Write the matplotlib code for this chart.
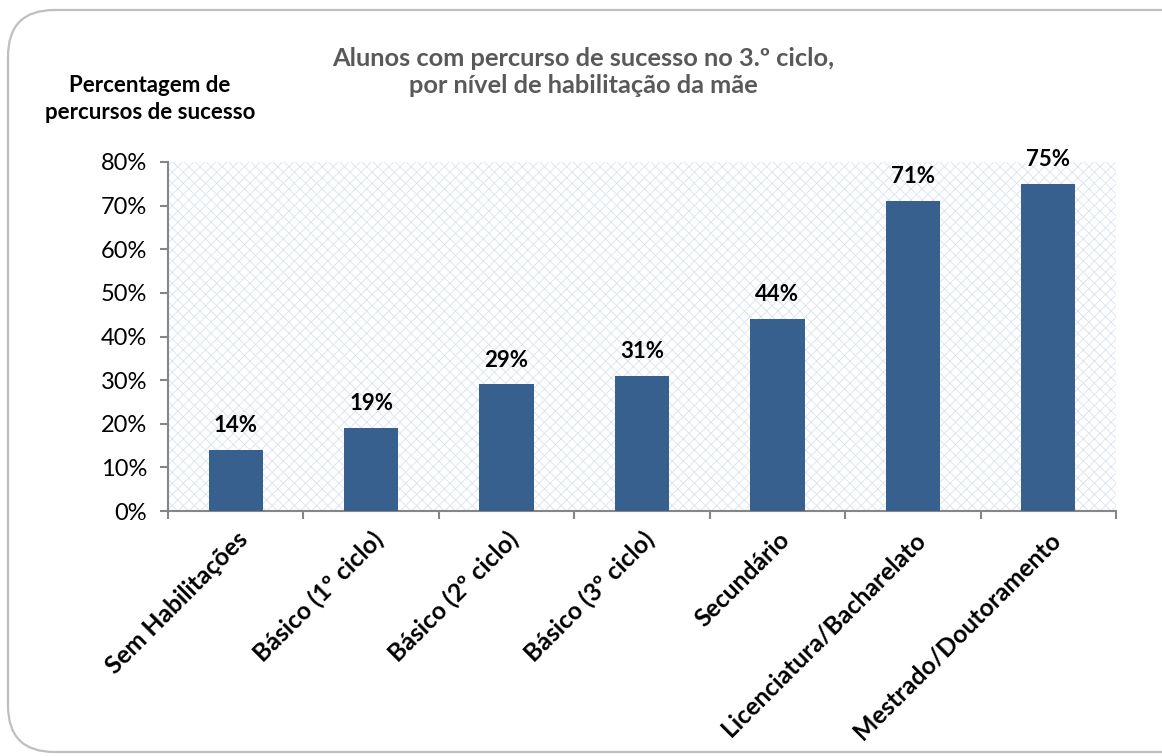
import matplotlib
matplotlib.use("Agg")
import matplotlib.pyplot as plt
from matplotlib.patches import Rectangle, FancyBboxPatch
from matplotlib.ticker import PercentFormatter, MultipleLocator

categories = ["Sem Habilitações", "Básico (1º ciclo)", "Básico (2º ciclo)",
              "Básico (3º ciclo)", "Secundário", "Licenciatura/Bacharelato",
              "Mestrado/Doutoramento"]
values = [14, 19, 29, 31, 44, 71, 75]

title = "Alunos com percurso de sucesso no 3.º ciclo,\npor nível de habilitação da mãe"
ylabel = "Percentagem de\npercursos de sucesso"

plt.rcParams['font.family'] = ['Lato', 'DejaVu Sans']
plt.rcParams['hatch.linewidth'] = 0.6

W, H = 1162, 756
fig = plt.figure(figsize=(W / 100, H / 100), dpi=100)

# outer rounded frame
frame = FancyBboxPatch((8 / W, 4 / H), (1300 - 8) / W, (746 - 4) / H,
                       boxstyle="round,pad=0,rounding_size=0.04",
                       transform=fig.transFigure, facecolor="white",
                       edgecolor="#bfbfbf", linewidth=1.6, zorder=-10,
                       mutation_aspect=W / H)
fig.patches.append(frame)

left, right, top, bottom = 168, 1116, 162, 511
ax = fig.add_axes([left / W, 1 - bottom / H, (right - left) / W, (bottom - top) / H])
ax.set_facecolor("white")

bg = Rectangle((0, 0), 1, 1, transform=ax.transAxes, facecolor="white",
               edgecolor="#d8e2f1", hatch="xxx", linewidth=0, zorder=0)
ax.add_patch(bg)

x = list(range(len(categories)))
bars = ax.bar(x, values, width=0.4, color="#37608f", zorder=3)

ax.set_xlim(-0.5, len(categories) - 0.5)
ax.set_ylim(0, 80)
ax.yaxis.set_major_locator(MultipleLocator(10))
ax.yaxis.set_major_formatter(PercentFormatter(decimals=0))

ax.set_xticks([i - 0.5 for i in range(len(categories) + 1)], minor=False)
ax.set_xticklabels([])
ax.set_xticks(x, minor=True)
ax.set_xticklabels(categories, minor=True, rotation=45, ha="right",
                   rotation_mode="anchor", fontsize=17.8, fontweight="bold")
ax.tick_params(axis="x", which="minor", length=0, pad=12)
ax.tick_params(axis="x", which="major", length=6, color="#868686", width=1.5)
ax.tick_params(axis="y", length=6, color="#868686", width=1.5, labelsize=17, pad=9)

for s in ["top", "right"]:
    ax.spines[s].set_visible(False)
for s in ["left", "bottom"]:
    ax.spines[s].set_color("#868686")
    ax.spines[s].set_linewidth(1.5)

for rect, v in zip(bars, values):
    ax.annotate(f"{v}%", (rect.get_x() + rect.get_width() / 2, v),
                xytext=(0, 10), textcoords="offset points",
                ha="center", va="bottom", fontsize=16, fontweight="bold")

fig.text(583 / W, 1 - 72 / H, title, ha="center", va="center",
         fontsize=18.3, fontweight="bold", color="#595959", linespacing=1.2)
fig.text(150 / W, 1 - 99 / H, ylabel, ha="center", va="center",
         fontsize=16, fontweight="bold", color="black", linespacing=1.3)

fig.savefig("out.png", dpi=100)
